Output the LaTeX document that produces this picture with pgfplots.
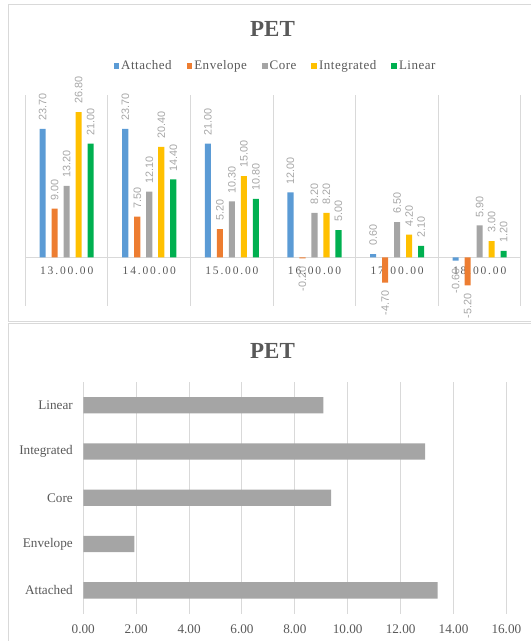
\documentclass[border=0pt]{standalone}
\usepackage{fontspec}
\setmainfont{Liberation Serif}
\newfontfamily\labsans{Liberation Sans}
\newfontfamily\catfont[LetterSpace=16]{Liberation Serif}
\newfontfamily\legfont[LetterSpace=4]{Liberation Serif}
\usepackage{pgfplots}
\pgfplotsset{compat=1.18}

\definecolor{cAtt}{HTML}{5B9BD5}
\definecolor{cEnv}{HTML}{ED7D31}
\definecolor{cCore}{HTML}{A5A5A5}
\definecolor{cInt}{HTML}{FFC000}
\definecolor{cLin}{HTML}{00B050}
\definecolor{txt}{HTML}{595959}
\definecolor{lbl}{HTML}{A6A6A6}
\definecolor{grd}{HTML}{D9D9D9}

\begin{document}
\begin{tikzpicture}[x=1pt,y=1pt]
\useasboundingbox (0,0) rectangle (531,641);
\clip (0,0) rectangle (531,641);
% panel frames
\draw[grd, line width=1pt] (8.5,636) rectangle (545,319);
\draw[grd, line width=1pt] (8.5,317) rectangle (545,-10);

\node[font=\fontsize{23}{26}\selectfont\bfseries, text=txt] at (272.5,612) {PET};
\node[font=\fontsize{23}{26}\selectfont\bfseries, text=txt] at (272.5,290) {PET};

% top: values per hour
\begin{axis}[
  at={(25.4pt,335pt)}, anchor=south west,
  scale only axis, width=495.6pt, height=211.2pt,
  xmin=0.5, xmax=6.5, ymin=-9, ymax=30,
  enlargelimits=false, clip=false,
  axis x line=middle, axis y line=none,
  x axis line style={-, grd, line width=1pt},
  xtick={1,...,6},
  xticklabels={13.00.00,14.00.00,15.00.00,16.00.00,17.00.00,18.00.00},
  minor xtick={0.5,1.5,...,6.5},
  xminorgrids, minor x grid style={grd, line width=1pt},
  major tick length=0pt, minor tick length=0pt,
  xticklabel style={font=\catfont\fontsize{11.5}{13}\selectfont, text=txt, yshift=-6pt},
  ybar=5.9pt, bar width=6.1pt,
  /pgf/number format/assume math mode=true,
  visualization depends on={y \as \rawy},
  nodes near coords={\pgfmathprintnumber[fixed,fixed zerofill,precision=2]{\pgfplotspointmeta}},
  nodes near coords style={rotate=90, font=\labsans\fontsize{10.8}{12}\selectfont, text=lbl,
    inner xsep=8pt, inner ysep=0pt,
    /utils/exec={\pgfmathparse{\rawy<0}\ifdim\pgfmathresult pt>0.5pt\gdef\nnanchor{east}\else\gdef\nnanchor{west}\fi},
    anchor=\nnanchor},
  legend columns=5,
  legend style={at={(0.5047,1.136)}, anchor=center, draw=none, fill=none,
    font=\legfont\fontsize{13}{15}\selectfont, text=txt, inner sep=0pt,
    /tikz/every even column/.append style={column sep=13pt}},
  legend image code/.code={\fill[#1] (0pt,-2.8pt) rectangle (5.6pt,2.8pt);},
]
\addplot[fill=cAtt, draw=none] coordinates {(1,23.7) (2,23.7) (3,21.0) (4,12.0) (5,0.6) (6,-0.6)};
\addlegendentry{Attached}
\addplot[fill=cEnv, draw=none] coordinates {(1,9.0) (2,7.5) (3,5.2) (4,-0.2) (5,-4.7) (6,-5.2)};
\addlegendentry{Envelope}
\addplot[fill=cCore, draw=none] coordinates {(1,13.2) (2,12.1) (3,10.3) (4,8.2) (5,6.5) (6,5.9)};
\addlegendentry{Core}
\addplot[fill=cInt, draw=none] coordinates {(1,26.8) (2,20.4) (3,15.0) (4,8.2) (5,4.2) (6,3.0)};
\addlegendentry{Integrated}
\addplot[fill=cLin, draw=none] coordinates {(1,21.0) (2,14.4) (3,10.8) (4,5.0) (5,2.1) (6,1.2)};
\addlegendentry{Linear}
\end{axis}

% bottom: averages
\begin{axis}[
  at={(83.3pt,27.5pt)}, anchor=south west,
  scale only axis, width=423.1pt, height=231.5pt,
  xmin=0, xmax=16, ymin=0.5, ymax=5.5, enlargelimits=false,
  xbar, bar width=16.3pt,
  axis line style={draw=none},
  major tick length=0pt,
  xtick={0,2,...,16}, xmajorgrids, major x grid style={grd, line width=1pt},
  ytick={1,...,5}, yticklabels={Attached,Envelope,Core,Integrated,Linear},
  /pgf/number format/assume math mode=true,
  ticklabel style={font=\fontsize{13.2}{15}\selectfont, text=txt},
  xticklabel style={yshift=-8pt, /pgf/number format/fixed, /pgf/number format/fixed zerofill, /pgf/number format/precision=2},
  yticklabel style={xshift=-7pt},
]
\addplot[fill=cCore, draw=none] coordinates {(13.40,1) (1.93,2) (9.37,3) (12.93,4) (9.08,5)};
\end{axis}
\end{tikzpicture}
\end{document}
